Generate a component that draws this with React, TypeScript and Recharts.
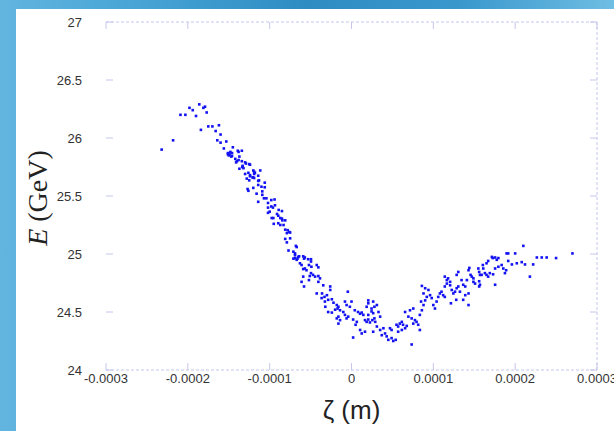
import React from "react";
import { ScatterChart, Scatter, XAxis, YAxis, Label } from "recharts";

// ζ in micrometres, E in GeV
const headPoints: [number, number][] = [
  [-232, 25.9], [-218, 25.98], [-209, 26.2], [-203, 26.2], [-198, 26.26], [-194, 26.24], [-190, 26.19],
  [-186, 26.29], [-181, 26.26], [-179, 26.27], [-177, 26.22], [-184, 26.07], [-175, 26.1], [-170, 26.1],
  [-162, 26.11], [-166, 26.06], [-160, 26.03], [-164, 25.98], [-160, 25.96], [-153, 25.97], [-156, 25.91],
  [-145, 25.92], [-151, 25.87], [-149, 25.86], [-147, 25.84], [-150, 25.85], [-138, 25.88], [-134, 25.89],
  [-142, 25.82], [-137, 25.84], [-138, 25.81], [-141, 25.79], [-134, 25.8], [-129, 25.78], [-124, 25.77],
  [-133, 25.76], [-137, 25.735], [-132, 25.74], [-120, 25.72], [-118, 25.7], [-126, 25.7], [-130, 25.69],
  [-124, 25.67], [-121, 25.66], [-119, 25.655], [-128, 25.65], [-125, 25.635], [-114, 25.675], [-113, 25.635],
];

const fallPoints: [number, number][] = [
  [-148, 25.88], [-146, 25.87], [-151, 25.86], [-146, 25.845], [-139, 25.89], [-140, 25.8], [-130, 25.79],
  [-133.5, 25.75], [-125, 25.775], [-124, 25.68], [-120, 25.66], [-119, 25.71], [-119, 25.69], [-111.5, 25.72],
  [-114, 25.63], [-106, 25.615], [-114, 25.595], [-110, 25.58], [-127, 25.56], [-126, 25.545], [-120, 25.57],
  [-106, 25.575], [-116, 25.52], [-109, 25.54], [-109, 25.51], [-107, 25.48], [-104, 25.48], [-114, 25.45],
  [-102, 25.44], [-98, 25.465], [-94, 25.47], [-93.5, 25.42], [-102, 25.4], [-98, 25.41], [-96, 25.4],
  [-100, 25.365], [-89, 25.38], [-85, 25.37], [-102, 25.355], [-91, 25.345], [-89.5, 25.33], [-87, 25.31],
  [-85, 25.305], [-84.5, 25.29], [-81, 25.29], [-97.5, 25.31], [-95.5, 25.31], [-95, 25.26], [-89.5, 25.265],
  [-87, 25.25], [-83, 25.25], [-81, 25.21], [-78, 25.205], [-76, 25.19], [-75, 25.185], [-79, 25.18],
  [-81, 25.13], [-75, 25.135], [-77, 25.03], [-68, 25.07], [-71, 25.02], [-69, 25.005], [-64, 24.98],
  [-66, 24.96], [-69, 24.965], [-58, 24.96], [-49.5, 24.955],
];

const troughPoints: [number, number][] = [
  [-79, 25.1], [-67, 25.06], [-69, 24.99], [-65, 24.975], [-71, 24.96], [-67, 24.95], [-59, 24.98],
  [-57, 24.97], [-53, 24.955], [-49.5, 24.935], [-52, 24.905], [-49, 24.89], [-63, 24.92], [-61, 24.905],
  [-57, 24.875], [-59, 24.87], [-55, 24.86], [-42.5, 24.905], [-40.5, 24.885], [-49.5, 24.835], [-47, 24.82],
  [-44.5, 24.805], [-51, 24.81], [-52, 24.775], [-40.5, 24.81], [-38.5, 24.79], [-40.5, 24.76], [-59, 24.805],
  [-61, 24.76], [-58, 24.72], [-34.5, 24.73], [-26, 24.72], [-26, 24.69], [-42.5, 24.66], [-36, 24.66],
  [-33, 24.63], [-36.5, 24.62], [-30, 24.645], [-32.5, 24.59], [-28.5, 24.605], [-24, 24.61], [-22, 24.58],
  [-18, 24.56], [-16, 24.545], [-14, 24.515], [-20, 24.52], [-17, 24.53], [-4.5, 24.675], [-8, 24.59],
  [-6, 24.56], [0, 24.59], [-2, 24.545], [-10, 24.5], [-8, 24.475], [-4, 24.46], [-6, 24.445], [-16, 24.46],
  [-18, 24.445], [-14, 24.43], [-32, 24.545], [-28.5, 24.5], [-24, 24.495], [4, 24.515], [8, 24.5],
  [10.5, 24.485], [12.5, 24.495], [14.5, 24.475], [2, 24.435], [6.5, 24.415], [5, 24.39], [16.5, 24.43],
  [18.5, 24.415], [20.5, 24.435], [22.5, 24.41], [25.5, 24.43], [28, 24.445], [24.5, 24.505], [28, 24.545],
  [26.5, 24.59], [20.5, 24.575], [10.5, 24.345], [16.5, 24.33], [12.5, 24.315], [-16, 24.4], [2, 24.28],
  [26.5, 24.33],
];

const risePoints: [number, number][] = [
  [20.5, 24.6], [18.5, 24.545], [24.5, 24.53], [26.5, 24.49], [20.5, 24.475], [31, 24.56], [33, 24.5],
  [35, 24.46], [29, 24.415], [31, 24.375], [35, 24.345], [39, 24.36], [41, 24.315], [37, 24.3], [43, 24.29],
  [45, 24.26], [49, 24.275], [51, 24.25], [54, 24.26], [47, 24.36], [49, 24.345], [55, 24.39], [57, 24.375],
  [59, 24.4], [61.5, 24.415], [57, 24.33], [61.5, 24.345], [65.5, 24.36], [67.5, 24.38], [63, 24.39],
  [65.5, 24.5], [71.5, 24.515], [75.5, 24.53], [69.5, 24.46], [73.5, 24.445], [77.5, 24.43], [75.5, 24.4],
  [79.5, 24.415], [81.5, 24.39], [83.5, 24.345], [83.5, 24.475], [86, 24.515], [88, 24.56], [85, 24.59],
  [90, 24.6], [92, 24.63], [88, 24.66], [94, 24.69], [96, 24.645], [98, 24.62], [90, 24.705], [86, 24.725],
  [100, 24.56], [102, 24.53], [104, 24.59], [106, 24.63], [108, 24.66], [110, 24.675], [112, 24.645],
  [114, 24.72], [116.5, 24.745], [118, 24.79], [114, 24.805], [120.5, 24.76], [122.5, 24.69], [121.5, 24.575],
  [124.5, 24.66], [73.5, 24.22],
];

const tailPoints: [number, number][] = [
  [116.5, 24.775], [120.5, 24.73], [114, 24.63], [126.5, 24.675], [128.5, 24.705], [130.5, 24.72],
  [130.5, 24.845], [128.5, 24.82], [134.5, 24.775], [136.5, 24.735], [141, 24.775], [139, 24.72],
  [132.5, 24.675], [139, 24.645], [143, 24.66], [128, 24.605], [136.5, 24.605], [143, 24.56], [143, 24.86],
  [144, 24.88], [145.5, 24.82], [147, 24.805], [149, 24.79], [149, 24.76], [151, 24.745], [155, 24.875],
  [156, 24.845], [157, 24.82], [159, 24.82], [161, 24.875], [163, 24.835], [165, 24.82], [167, 24.805],
  [169, 24.835], [173, 24.825], [156, 24.765], [157, 24.735], [156, 24.72], [160.5, 24.905], [165, 24.92],
  [167, 24.94], [171.5, 24.975], [172.5, 24.965], [175.5, 24.97], [177.5, 24.95], [179.5, 24.965],
  [175.5, 24.875], [179.5, 24.89], [183.5, 24.905], [185.5, 24.875], [187.5, 24.835], [189, 24.86],
  [175.5, 24.735], [189.5, 25.005], [191.5, 25.005], [191.5, 24.94], [196, 24.91], [200, 25.005], [202, 24.92],
  [208, 24.93], [210, 25.07], [212, 24.91], [218, 24.805], [222, 24.91], [226.5, 24.97], [232.5, 24.97],
  [238.5, 24.97], [250, 24.965], [270, 25.005],
];

const xTicks = [-0.0003, -0.0002, -0.0001, 0, 0.0001, 0.0002, 0.0003];
const yTicks = [24, 24.5, 25, 25.5, 26, 26.5, 27];

const table = [...headPoints, ...fallPoints, ...troughPoints, ...risePoints, ...tailPoints].map(
  ([z, e]) => ({ x: z * 1e-6, y: e })
);

const FRAME = "#c6c6ee";
const TICKLEN = 7;
const FONT = "'Liberation Sans', Arial, Helvetica, sans-serif";

const fmt = (v: number) => String(Number(v.toPrecision(6)));

const LeftTick = (p: any) => (
  <g>
    <text x={p.x} y={p.y} dy="0.35em" textAnchor="end" fontFamily={FONT} fontSize={13} fill="#333">
      {fmt(p.payload.value)}
    </text>
    <line x1={p.x + 24} x2={p.x + 24 + TICKLEN} y1={p.y} y2={p.y} stroke={FRAME} />
  </g>
);

const BottomTick = (p: any) => (
  <g>
    <text x={p.x} y={p.y} dy="0.71em" textAnchor="middle" fontFamily={FONT} fontSize={13} fill="#333">
      {fmt(p.payload.value)}
    </text>
    <line x1={p.x} x2={p.x} y1={p.y - 4} y2={p.y - 4 - TICKLEN} stroke={FRAME} />
  </g>
);

const TopTick = (p: any) => (
  <line x1={p.x} x2={p.x} y1={p.y} y2={p.y + TICKLEN} stroke={FRAME} />
);

const RightTick = (p: any) => (
  <line x1={p.x} x2={p.x - TICKLEN} y1={p.y} y2={p.y} stroke={FRAME} />
);

const Dot = (p: any) => (
  <rect x={p.cx - 1.3} y={p.cy - 1.3} width={2.6} height={2.6} fill="#1212f2" />
);

const NoDot = () => <g />;

export default function App() {
  return (
    <div
      style={{
        position: "fixed",
        left: 0,
        top: 0,
        width: 614,
        height: 431,
        overflow: "hidden",
        background:
          "linear-gradient(90deg, #62b5df 0%, #4aa6d6 20%, #2f8cc3 50%, #3a98cd 75%, #6fbee3 100%)",
      }}
    >
      <div style={{ position: "absolute", left: 16, top: 9, right: 0, bottom: 0, background: "#ffffff" }} />
      <div style={{ position: "absolute", left: 0, top: 0 }}>
        <ScatterChart width={614} height={431} margin={{ top: 21, right: 16, bottom: 31, left: 26 }}>
          <XAxis
            xAxisId={0}
            type="number"
            dataKey="x"
            domain={[-0.0003, 0.0003]}
            ticks={xTicks}
            interval={0}
            height={30}
            tickSize={0}
            tickMargin={4}
            tickLine={false}
            tick={<BottomTick />}
            axisLine={{ stroke: FRAME, strokeDasharray: "3 2" }}
          >
            <Label
              content={(lp: any) => {
                const vb = lp.viewBox || {};
                return (
                  <text
                    x={vb.x + vb.width / 2}
                    y={vb.y + 49}
                    textAnchor="middle"
                    fontFamily={FONT}
                    fontSize={26}
                    fill="#222"
                  >
                    ζ (m)
                  </text>
                );
              }}
            />
          </XAxis>
          <XAxis
            xAxisId="top"
            orientation="top"
            type="number"
            dataKey="x"
            domain={[-0.0003, 0.0003]}
            ticks={xTicks}
            interval={0}
            height={1}
            tickSize={0}
            tickMargin={0}
            tickLine={false}
            tick={<TopTick />}
            axisLine={{ stroke: FRAME, strokeDasharray: "3 2" }}
          />
          <YAxis
            yAxisId={0}
            type="number"
            dataKey="y"
            domain={[24, 27]}
            ticks={yTicks}
            interval={0}
            width={80}
            tickSize={0}
            tickMargin={24}
            tickLine={false}
            tick={<LeftTick />}
            axisLine={false}
          >
            <Label
              content={(lp: any) => {
                const vb = lp.viewBox || {};
                const cx = vb.x + 11;
                const cy = vb.y + vb.height / 2 + 2;
                return (
                  <text
                    x={cx}
                    y={cy}
                    transform={`rotate(-90 ${cx} ${cy})`}
                    textAnchor="middle"
                    dominantBaseline="central"
                    fontFamily="'Liberation Serif', 'Times New Roman', serif"
                    fontSize={28}
                    fill="#222"
                  >
                    <tspan fontStyle="italic">E</tspan> (GeV)
                  </text>
                );
              }}
            />
          </YAxis>
          <YAxis
            yAxisId="right"
            orientation="right"
            type="number"
            dataKey="y"
            domain={[24, 27]}
            ticks={yTicks}
            interval={0}
            width={1}
            tickSize={0}
            tickMargin={0}
            tickLine={false}
            tick={<RightTick />}
            axisLine={{ stroke: FRAME, strokeDasharray: "3 2" }}
          />
          <Scatter data={table} xAxisId="top" yAxisId="right" shape={<NoDot />} isAnimationActive={false} />
          <Scatter data={table} xAxisId={0} yAxisId={0} shape={<Dot />} isAnimationActive={false} />
        </ScatterChart>
      </div>
    </div>
  );
}
